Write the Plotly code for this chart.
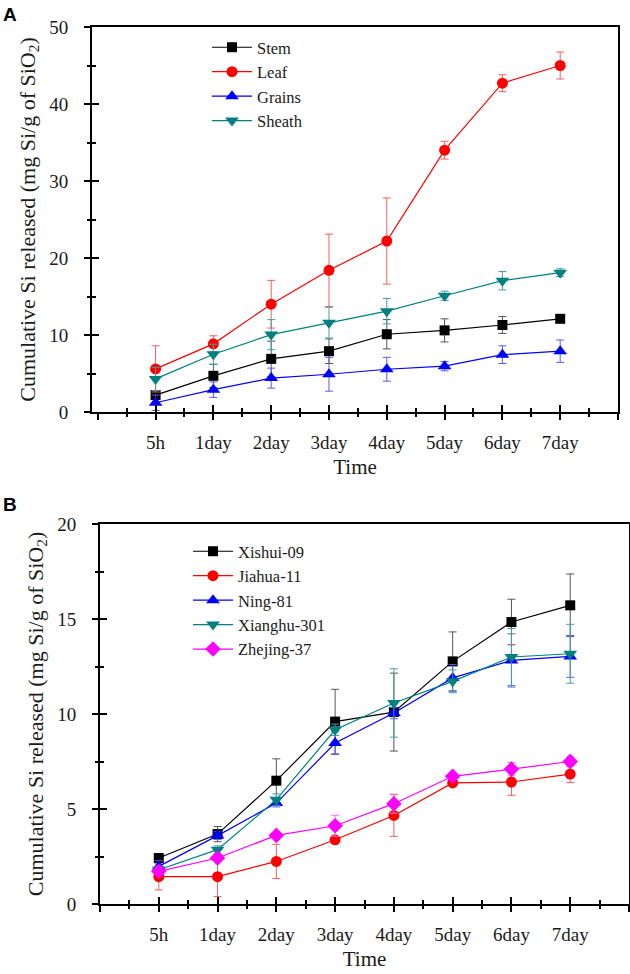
import plotly.graph_objects as go

TIMES = ["5h", "1day", "2day", "3day", "4day", "5day", "6day", "7day"]
X_POS = list(range(len(TIMES)))

# panel A: plant parts
PARTS = ["Stem", "Leaf", "Grains", "Sheath"]
STEM = [2.2, 4.7, 6.9, 7.9, 10.1, 10.6, 11.3, 12.1]
STEM_ERR = [0.4, 1.5, 2.3, 1.6, 1.9, 1.5, 1.1, 0.3]
LEAF = [5.6, 8.85, 14.0, 18.4, 22.2, 34.0, 42.7, 45.0]
LEAF_ERR = [3.0, 1.05, 3.1, 4.7, 5.6, 1.15, 1.1, 1.75]
GRAINS = [1.2, 2.9, 4.4, 4.9, 5.55, 5.95, 7.45, 7.9]
GRAINS_ERR = [1.0, 1.0, 1.3, 2.2, 1.55, 0.6, 1.15, 1.45]
SHEATH = [4.3, 7.5, 10.05, 11.6, 13.1, 15.1, 17.05, 18.1]
SHEATH_ERR = [1.5, 1.3, 1.95, 2.0, 1.65, 0.6, 1.2, 0.5]

# panel B: cultivars
CULTIVARS = ["Xishui-09", "Jiahua-11", "Ning-81", "Xianghu-301", "Zhejing-37"]
XISHUI = [2.42, 3.68, 6.49, 9.6, 10.1, 12.77, 14.84, 15.72]
XISHUI_ERR = [0.2, 0.4, 1.15, 1.7, 2.05, 1.55, 1.2, 1.65]
JIAHUA = [1.44, 1.44, 2.24, 3.38, 4.66, 6.37, 6.42, 6.84]
JIAHUA_ERR = [0.7, 1.05, 0.9, 0.15, 1.1, 0.1, 0.7, 0.45]
NING = [1.98, 3.6, 5.31, 8.47, 10.05, 11.9, 12.82, 13.03]
NING_ERR = [0.3, 0.2, 0.2, 0.6, 0.3, 0.7, 1.4, 1.1]
XIANGHU = [1.8, 2.86, 5.49, 9.17, 10.58, 11.72, 13.0, 13.17]
XIANGHU_ERR = [0.2, 0.2, 0.3, 0.3, 1.8, 0.6, 1.5, 1.55]
ZHEJING = [1.72, 2.42, 3.61, 4.12, 5.28, 6.72, 7.1, 7.5]
ZHEJING_ERR = [0.1, 0.15, 0.15, 0.55, 0.5, 0.1, 0.35, 0.25]

COLORS = ["#000000", "#ff0000", "#0000ff", "#008080", "#ff00ff"]
ERR_COLORS = ["#555555", "#f06060", "#5a5af0", "#40a0a0", "#f070f0"]
SYMBOLS = ["square", "circle", "triangle-up", "triangle-down", "diamond"]
SIZES = [10, 11, 12, 12, 12]

SERIF = "Liberation Serif"
INK = "#1a1a1a"
YTITLE = "Cumulative Si released (mg Si/g of SiO<sub>2</sub>)"

fig = go.Figure()


def add_series(name, y, err, i, xa, ya, leg):
    fig.add_scatter(
        x=X_POS, y=y, name=name, mode="lines+markers",
        xaxis=xa, yaxis=ya, legend=leg,
        line=dict(color=COLORS[i], width=1.2),
        marker=dict(color=COLORS[i], symbol=SYMBOLS[i], size=SIZES[i]),
        error_y=dict(type="data", array=err, color=ERR_COLORS[i],
                     thickness=1, width=4),
    )


for i, (n, y, e) in enumerate(zip(
        PARTS, [STEM, LEAF, GRAINS, SHEATH],
        [STEM_ERR, LEAF_ERR, GRAINS_ERR, SHEATH_ERR])):
    add_series(n, y, e, i, "x", "y", "legend")

for i, (n, y, e) in enumerate(zip(
        CULTIVARS, [XISHUI, JIAHUA, NING, XIANGHU, ZHEJING],
        [XISHUI_ERR, JIAHUA_ERR, NING_ERR, XIANGHU_ERR, ZHEJING_ERR])):
    add_series(n, y, e, i, "x2", "y2", "legend2")

# empty traces so the overlay axes (outer half of the crossing ticks) get drawn
fig.add_scatter(x=[], y=[], xaxis="x3", yaxis="y3", showlegend=False)
fig.add_scatter(x=[], y=[], xaxis="x4", yaxis="y4", showlegend=False)

AX = dict(showgrid=False, zeroline=False, linecolor="black", linewidth=2,
          tickcolor="black", tickwidth=2, color="black", automargin=False,
          tickfont=dict(family=SERIF, size=19, color=INK))


def xaxis(domain, rng, anchor):
    return dict(AX, domain=domain, range=rng, anchor=anchor, mirror=True,
                showline=True, tickmode="array", tickvals=X_POS,
                ticktext=TIMES, ticks="inside", ticklen=7,
                ticklabelstandoff=12,
                minor=dict(tickmode="linear", tick0=-0.5, dtick=1,
                           ticks="inside", ticklen=4, tickwidth=1.5,
                           tickcolor="black"),
                title=dict(text="Time", standoff=8,
                           font=dict(family=SERIF, size=21, color=INK)))


def yaxis(domain, rng, dtick, anchor):
    return dict(AX, domain=domain, range=rng, anchor=anchor, mirror=True,
                showline=True, dtick=dtick, tick0=0, ticks="inside",
                ticklen=7, ticklabelstandoff=18,
                minor=dict(dtick=dtick / 2, ticks="inside", ticklen=4,
                           tickwidth=1.5, tickcolor="black"),
                title=dict(text=YTITLE, standoff=8,
                           font=dict(family=SERIF, size=22, color=INK)))


def overlay(base, over, anchor, tickvals=None):
    d = {k: v for k, v in base.items() if k != "title"}
    d.update(overlaying=over, anchor=anchor, showline=False, mirror=False,
             showticklabels=False, ticks="outside")
    if tickvals is not None:
        d["tickvals"] = tickvals
    d["minor"] = dict(d["minor"], ticks="outside")
    return d


XA_DOM = [92 / 630, 618 / 630]
YA_DOM = [1 - 412 / 974, 1 - 27 / 974]
XB_DOM = [100 / 630, 629 / 630]
YB_DOM = [1 - 904 / 974, 1 - 524 / 974]
OUTER_X = [-1] + X_POS + [len(TIMES)]

xa = xaxis(XA_DOM, [-1.1, 8], "y")
ya = yaxis(YA_DOM, [0, 50], 10, "x")
xb = xaxis(XB_DOM, [-1, 8], "y2")
yb = yaxis(YB_DOM, [0, 20], 5, "x2")

LEG = dict(font=dict(family=SERIF, size=16.5, color=INK),
           bgcolor="rgba(0,0,0,0)", itemwidth=40, xanchor="left",
           yanchor="top", tracegroupgap=0)

fig.update_layout(
    width=630, height=974,
    margin=dict(l=0, r=0, t=0, b=0, autoexpand=False),
    paper_bgcolor="white", plot_bgcolor="white", showlegend=True,
    xaxis=xa, yaxis=ya, xaxis2=xb, yaxis2=yb,
    xaxis3=overlay(xa, "x", "y3", OUTER_X), yaxis3=overlay(ya, "y", "x3"),
    xaxis4=overlay(xb, "x2", "y4", OUTER_X), yaxis4=overlay(yb, "y2", "x4"),
    legend=dict(LEG, x=207 / 630, y=1 - 30 / 974),
    legend2=dict(LEG, x=188 / 630, y=1 - 534 / 974),
    annotations=[
        dict(text="<b>A</b>", x=10 / 630, y=1 - 14 / 974, xref="paper",
             yref="paper", xanchor="center", yanchor="middle",
             showarrow=False,
             font=dict(family="Liberation Sans", size=19, color="black")),
        dict(text="<b>B</b>", x=10 / 630, y=1 - 504 / 974, xref="paper",
             yref="paper", xanchor="center", yanchor="middle",
             showarrow=False,
             font=dict(family="Liberation Sans", size=19, color="black")),
    ],
)

# the page's default body margin would push the 630x974 figure off-window
fig.write_html("out.html", config={"displayModeBar": False},
               post_script="document.body.style.margin='0px';")
